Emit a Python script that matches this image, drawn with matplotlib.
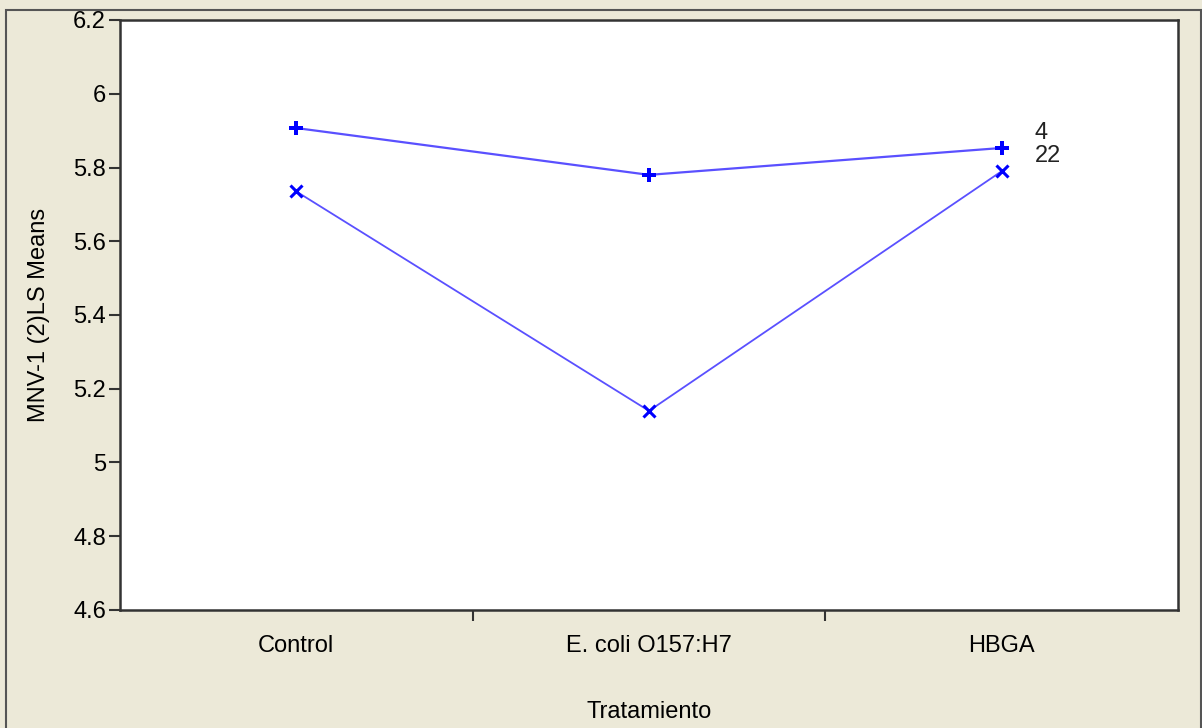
import matplotlib
matplotlib.use("Agg")
import matplotlib.pyplot as plt
from matplotlib.patches import Rectangle

plt.rcParams['font.family'] = ['Liberation Sans', 'DejaVu Sans']

categories = ["Control", "E. coli O157:H7", "HBGA"]
series_names = ["4", "22"]
means_4 = [5.907, 5.780, 5.853]
means_22 = [5.735, 5.140, 5.790]
y_ticks = [4.6, 4.8, 5.0, 5.2, 5.4, 5.6, 5.8, 6.0, 6.2]
y_tick_labels = ["4.6", "4.8", "5", "5.2", "5.4", "5.6", "5.8", "6", "6.2"]

bg = "#ECE9D8"
line_col = "#5A50FF"
mark_col = "#0000FF"
fs = 17

fig = plt.figure(figsize=(12.02, 7.28), dpi=100, facecolor=bg)
ax = fig.add_axes([120 / 1202, 1 - 610 / 728, (1178 - 120) / 1202, (610 - 20) / 728])
ax.set_facecolor("white")

x = list(range(len(categories)))
ax.plot(x, means_4, color=line_col, lw=1.6, zorder=2)
ax.plot(x, means_4, ls="none", marker="P", ms=10, color=mark_col,
        markeredgewidth=0, zorder=3)
ax.plot(x, means_22, color=line_col, lw=1.3, zorder=2)
ax.plot(x, means_22, ls="none", marker="x", ms=8, color=mark_col,
        markeredgewidth=2.2, zorder=3)

# Series labels beside the last point of each line
for vals, name in zip([means_4, means_22], series_names):
    ax.annotate(name, xy=(x[-1], vals[-1]), xytext=(24, 11),
                textcoords="offset points", ha="left", va="center",
                fontsize=fs, color="#222222")

ax.set_xlim(-0.5, len(categories) - 0.5)
ax.set_ylim(4.6, 6.2)
ax.set_yticks(y_ticks)
ax.set_yticklabels(y_tick_labels)

# Separators between categories on the x axis; names sit under each group
ax.set_xticks([0.5, 1.5])
ax.set_xticklabels([])
ax.set_xticks(x, minor=True)
ax.set_xticklabels(categories, minor=True)
ax.tick_params(axis="x", which="minor", length=0, pad=18, labelsize=fs)
ax.tick_params(axis="x", which="major", direction="out", length=8, width=1.5,
               color="#333333")
ax.tick_params(axis="y", direction="out", length=8, width=1.5, color="#333333",
               labelsize=fs, pad=2)

for s in ax.spines.values():
    s.set_color("#333333")
    s.set_linewidth(1.8)

ax.set_ylabel("MNV-1 (2)LS Means", fontsize=fs, labelpad=17)
ax.set_xlabel("Tratamiento", fontsize=fs, labelpad=32)

# Outer window frame
fig.patches.append(Rectangle((6 / 1202, -0.01), (1201 - 6) / 1202, 1 - 10 / 728 + 0.01,
                             transform=fig.transFigure, fill=False,
                             edgecolor="#555555", lw=1.5, zorder=0))

fig.savefig("out.png", dpi=100, facecolor=bg)
